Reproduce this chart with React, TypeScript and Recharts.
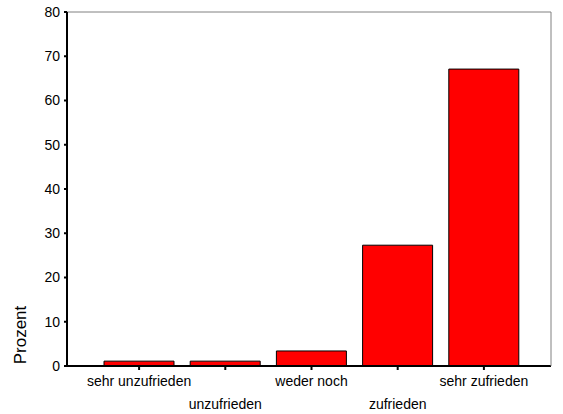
import React from "react"
import { BarChart, Bar, XAxis, YAxis, ReferenceLine, Label } from "recharts"

const categories = ["sehr unzufrieden", "unzufrieden", "weder noch", "zufrieden", "sehr zufrieden"]
const prozent = [1.1, 1.1, 3.4, 27.3, 67.1]
const yTicks = [0, 10, 20, 30, 40, 50, 60, 70, 80]

const data = categories.map((name, i) => ({ name, value: prozent[i] }))

const font = "'Liberation Sans', Arial, sans-serif"

// alternate the category labels on two rows like the original
function StaggeredTick(props: any) {
  const { x, y, payload, index } = props
  const offset = index % 2 === 0 ? 11 : 34
  return (
    <text x={x} y={y + offset} dy="0.35em" textAnchor="middle" fontSize={14} fill="#000" fontFamily={font}>
      {payload.value}
    </text>
  )
}

function ProzentLabel(props: any) {
  const { viewBox } = props
  const cx = viewBox.x + 20
  const cy = viewBox.y + viewBox.height - 31
  return (
    <text x={cx} y={cy} dy="0.35em" textAnchor="middle" fontSize={17} fill="#000" fontFamily={font} transform={`rotate(-90 ${cx} ${cy})`}>
      Prozent
    </text>
  )
}

export default function App() {
  return (
    <div style={{ position: "absolute", left: 0, top: 0 }}>
      <BarChart width={563} height={414} data={data} margin={{ top: 12, right: 11, bottom: 0, left: 0 }}>
        <ReferenceLine y={80} stroke="#808080" strokeWidth={1} />
        <XAxis
          dataKey="name"
          height={48}
          padding={{ left: 29, right: 24 }}
          axisLine={{ stroke: "#000", strokeWidth: 2 }}
          tickLine={{ stroke: "#000", strokeWidth: 2 }}
          tickSize={4}
          tickMargin={0}
          interval={0}
          tick={<StaggeredTick />}
        />
        <YAxis
          width={67}
          domain={[0, 80]}
          ticks={yTicks}
          interval={0}
          axisLine={{ stroke: "#000", strokeWidth: 2 }}
          tickLine={{ stroke: "#000", strokeWidth: 2 }}
          tickSize={3}
          tickMargin={4}
          tick={{ fontSize: 14, fill: "#000", fontFamily: font }}
        >
          <Label content={<ProzentLabel />} />
        </YAxis>
        <YAxis
          yAxisId="frame"
          orientation="right"
          width={1}
          domain={[0, 80]}
          tick={false}
          tickLine={false}
          axisLine={{ stroke: "#808080", strokeWidth: 1 }}
        />
        <Bar dataKey="value" fill="#ff0000" stroke="#000" strokeWidth={1} barSize={70} isAnimationActive={false} />
      </BarChart>
    </div>
  )
}
